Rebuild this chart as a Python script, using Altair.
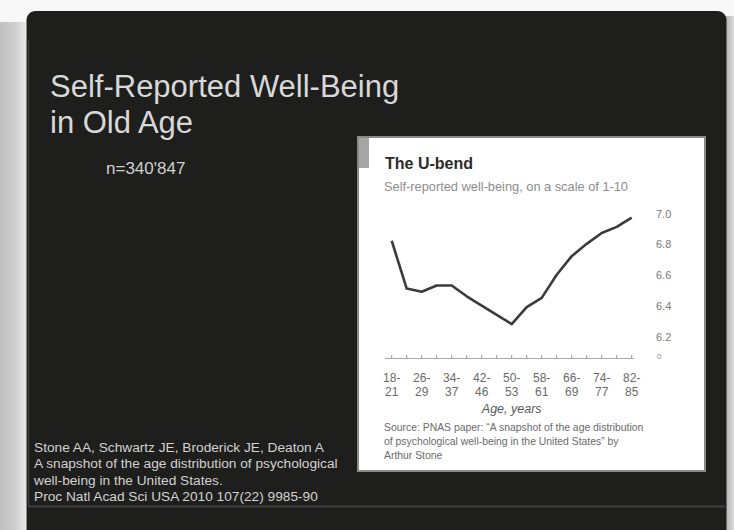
import altair as alt
import pandas as pd

# ---------------- data ----------------
age_groups = ["18-21", "22-25", "26-29", "30-33", "34-37", "38-41", "42-45", "46-49",
              "50-53", "54-57", "58-61", "62-65", "66-69", "70-73", "74-77", "78-81", "82-85"]
wellbeing = [6.83, 6.52, 6.50, 6.54, 6.54, 6.47, 6.41, 6.35,
             6.29, 6.40, 6.46, 6.61, 6.73, 6.81, 6.88, 6.92, 6.98]
tick_labels = ["18-\n21", "26-\n29", "34-\n37", "42-\n46", "50-\n53",
               "58-\n61", "66-\n69", "74-\n77", "82-\n85"]
y_ticks = [7.0, 6.8, 6.6, 6.4, 6.2]
y_tick_labels = ["7.0", "6.8", "6.6", "6.4", "6.2"]

slide_title = ["Self-Reported Well-Being", "in Old Age"]
sample_note = "n=340'847"
citation = ["Stone AA, Schwartz JE, Broderick JE, Deaton A",
            "A snapshot of the age distribution of psychological",
            "well-being in the United States.",
            "Proc Natl Acad Sci USA 2010 107(22) 9985-90"]
inset_title = "The U-bend"
inset_subtitle = "Self-reported well-being, on a scale of 1-10"
x_title = "Age, years"
source_lines = ["Source: PNAS paper: \u201cA snapshot of the age distribution",
                "of psychological well-being in the United States\u201d by",
                "Arthur Stone"]

line_df = pd.DataFrame({"idx": list(range(len(age_groups))), "age": age_groups, "value": wellbeing})
lab_df = pd.DataFrame({"idx": list(range(0, len(age_groups), 2)), "label": tick_labels})
ytick_df = pd.DataFrame({"value": y_ticks, "label": y_tick_labels})

xs = alt.Scale(domain=[0, len(age_groups) - 1], range=[391.7, 631.7], nice=False, zero=False)
ys = alt.Scale(domain=[6.2, 7.0], range=[338, 214.5], nice=False, zero=False)

one = alt.Data(values=[{"a": 1}])
FONT = "Liberation Sans"


def rect(x, x2, y, y2, **kw):
    return alt.Chart(one).mark_rect(**kw).encode(
        x=alt.value(x), x2=alt.value(x2), y=alt.value(y), y2=alt.value(y2))


def txt(s, x, y, **kw):
    opts = dict(align="left", baseline="alphabetic", font=FONT)
    opts.update(kw)
    return alt.Chart(one).mark_text(text=s, **opts).encode(x=alt.value(x), y=alt.value(y))


layers = []

# left page shadow
layers.append(rect(0, 26, 22, 530, fill=alt.LinearGradient(
    gradient="linear", x1=0, x2=1, y1=0, y2=0,
    stops=[alt.GradientStop(color="#c0c0c0", offset=0),
           alt.GradientStop(color="#cfcfcf", offset=0.6),
           alt.GradientStop(color="#e8e8e8", offset=1)])))
# right shadow
layers.append(rect(726, 734, 16, 530, fill=alt.LinearGradient(
    gradient="linear", x1=0, x2=1, y1=0, y2=0,
    stops=[alt.GradientStop(color="#b4b4b4", offset=0),
           alt.GradientStop(color="#dcdcdc", offset=1)])))
# dark slide panel
layers.append(rect(26.5, 726.5, 11, 550, fill="#1e1e1c", cornerRadius=9))
# subtle inner left line and bottom rule
layers.append(alt.Chart(one).mark_rule(color="#3a3a3a", strokeWidth=1.5).encode(
    x=alt.value(28.5), y=alt.value(40), y2=alt.value(506)))
layers.append(alt.Chart(one).mark_rule(color="#3e3e3e", strokeWidth=2).encode(
    x=alt.value(28), x2=alt.value(725), y=alt.value(506.5)))

# slide texts
layers.append(txt(slide_title[0], 50, 97, fontSize=31, color="#d8d8d8"))
layers.append(txt(slide_title[1], 50, 133, fontSize=31, color="#d8d8d8"))
layers.append(txt(sample_note, 106, 174, fontSize=17, color="#cfcfcf"))
for i, line in enumerate(citation):
    layers.append(txt(line, 34, 451.5 + i * 16.6, fontSize=13.7, color="#d2d2d2"))

# inset box
layers.append(rect(358, 705, 137, 471, fill="#ffffff", stroke="#8a8a8a", strokeWidth=2))
layers.append(rect(359, 369, 138, 168, fill="#a6a6a6"))
layers.append(txt(inset_title, 385, 169, fontSize=16, fontWeight="bold", color="#2a2a2a"))
layers.append(txt(inset_subtitle, 384, 191, fontSize=12.8, color="#8c8c8c"))

# baseline & ticks
layers.append(alt.Chart(one).mark_rule(color="#a8a8a8", strokeWidth=1).encode(
    x=alt.value(385), x2=alt.value(634), y=alt.value(358.5)))
layers.append(alt.Chart(line_df).mark_rule(color="#9a9a9a", strokeWidth=1).encode(
    x=alt.X("idx:Q", scale=xs, axis=None), y=alt.value(355), y2=alt.value(358.5)))

# line
layers.append(alt.Chart(line_df).mark_line(color="#3b3b3b", strokeWidth=2.6, strokeJoin="round").encode(
    x=alt.X("idx:Q", scale=xs, axis=None),
    y=alt.Y("value:Q", scale=ys, axis=None)))

# x tick labels
layers.append(alt.Chart(lab_df).mark_text(
    lineBreak="\n", lineHeight=14.6, baseline="middle", align="center",
    fontSize=12, color="#6a6a6a", font=FONT).encode(
    x=alt.X("idx:Q", scale=xs, axis=None), y=alt.value(377.7), text="label:N"))

# y tick labels
layers.append(alt.Chart(ytick_df).mark_text(
    align="left", baseline="middle", fontSize=11, color="#7a7a7a", font=FONT).encode(
    x=alt.value(656), y=alt.Y("value:Q", scale=ys, axis=None), text="label:N"))
layers.append(txt("0", 657, 359, fontSize=8, color="#8a8a8a"))

# axis title and source
layers.append(txt(x_title, 511.7, 409, align="center", baseline="middle",
                  fontSize=12.5, fontStyle="italic", color="#5a5a5a"))
for i, line in enumerate(source_lines):
    layers.append(txt(line, 384, 427.7 + i * 14.2, baseline="middle", fontSize=10.4, color="#6a6a6a"))

chart = alt.layer(*layers).properties(
    width=734, height=530,
    autosize=alt.AutoSizeParams(type="none"),
    padding=0,
    background="#f8f8f8",
).configure_view(strokeWidth=0)

chart.save("out.html", embed_options={"renderer": "svg", "actions": False})
